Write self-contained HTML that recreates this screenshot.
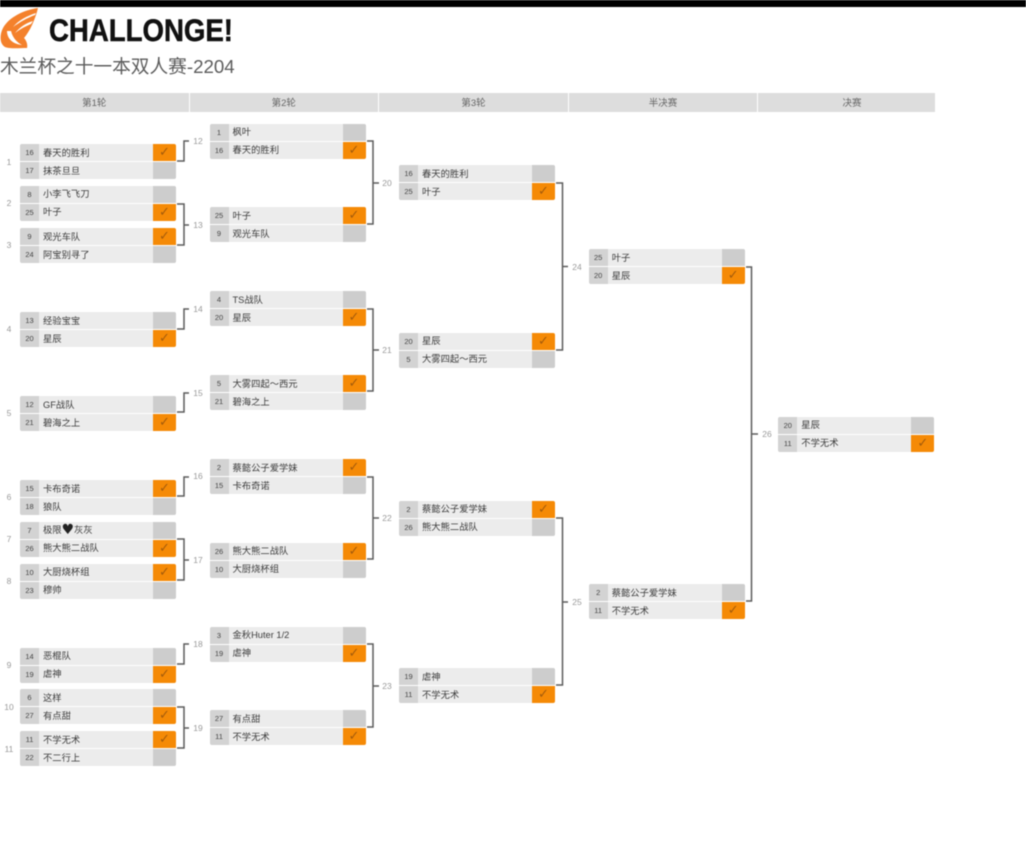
<!DOCTYPE html>
<html><head><meta charset="utf-8"><style>
html,body{margin:0;padding:0;background:#fff;width:1026px;height:846px;overflow:hidden}
body{position:relative;font-family:"Liberation Sans","Noto Sans CJK SC",sans-serif}
#p{position:absolute;left:0;top:0;width:1026px;height:846px;filter:blur(.45px)}
.bar{position:absolute;left:0;top:0;width:1026px;height:7px;background:#000}
.h{position:absolute;top:92.5px;height:19px;line-height:21px;background:#ddd;color:#666;font-size:9.5px;text-align:center}
.t{position:absolute;left:0;top:54px;font-size:18.700px;line-height:26px;color:#5c5c5c;white-space:nowrap}
.m{position:absolute;width:156px;height:35px;border-radius:2px;overflow:hidden;background:#fff}
.r{position:absolute;left:0;width:156px;height:17px;background:#ececec}
.a{top:0}.b{top:18px}
.s{position:absolute;left:0;top:0;width:19px;height:100%;background:#d3d3d3;color:#444;font-size:7.5px;line-height:17.500px;text-align:center}
.n{position:absolute;left:23px;top:.5px;font-size:9.3px;line-height:17px;color:#3c3c3c;white-space:nowrap}
.c{position:absolute;right:0;top:0;width:23px;height:100%;background:#cdcdcd}
.w .c{background:#f58a06;color:#a55c0c;font-size:13px;line-height:17px;text-align:center;font-family:"DejaVu Sans",sans-serif}
.l{position:absolute;font-size:8.5px;line-height:10px;color:#999;width:16px;text-align:center}
.ht{display:inline-block;width:12.400px;text-align:center;color:#222;font-size:14px;line-height:10px;font-family:"DejaVu Sans",sans-serif;vertical-align:-1px}
svg{position:absolute;left:0;top:0}
</style></head><body><div id="p">
<div class="bar"></div>

<svg width="1026" height="846" viewBox="0 0 1026 846">
<path d="M38 8C24 10 9 17 3 28C-1 36 0 44 5 47C10 49 20 48 27 48C28 44 26 40 24 38C30 31 35 20 38 8Z" fill="#f4812c"/>
<path d="M36 13C27 16 19 20 13 27C20 22 27 18 35 15ZM33 21C26 23 20 27 15 33C20 29 26 26 31 24ZM7 31C7 38 12 44 22 45C18 43 13 39 11 31Z" fill="#fff"/>
<text x="49" y="41" font-family="Liberation Sans" font-weight="700" font-size="31.500" fill="#111" stroke="#111" stroke-width=".5" textLength="184" lengthAdjust="spacingAndGlyphs">CHALLONGE!</text>
<g fill="none" stroke="#5c5c5c" stroke-width="1.5">
<path d="M177 161H184V141H189"/>
<path d="M177 204H184V245H177M184 225H189"/>
<path d="M177 329H184V309H189"/>
<path d="M177 412H184V393H189"/>
<path d="M177 496H184V477H189"/>
<path d="M177 539H184V580H177M184 560H189"/>
<path d="M177 664H184V644H189"/>
<path d="M177 707H184V748H177M184 728H189"/>
<path d="M367 141H373V224H367M373 183H379"/>
<path d="M367 309H373V391H367M373 350H379"/>
<path d="M367 477H373V559H367M373 518H379"/>
<path d="M367 644H373V727H367M373 686H379"/>
<path d="M556 183H562.5V350H556M562.5 266.500H568"/>
<path d="M556 518H562.5V685H556M562.5 602H568"/>
<path d="M746 267H751.500V601H746M751.500 434H758"/>
</g>
</svg>

<div class="t">木兰杯之十一本双人赛-2204</div>

<div class="h" style="left:0;width:188.500px">第1轮</div>
<div class="h" style="left:189.500px;width:188.500px">第2轮</div>
<div class="h" style="left:379px;width:189px">第3轮</div>
<div class="h" style="left:569px;width:188px">半决赛</div>
<div class="h" style="left:758px;width:177px;padding:0;text-indent:11px">决赛</div>

<div class="l" style="left:1px;top:157px">1</div>
<div class="l" style="left:1px;top:198px">2</div>
<div class="l" style="left:1px;top:240px">3</div>
<div class="l" style="left:1px;top:324px">4</div>
<div class="l" style="left:1px;top:408px">5</div>
<div class="l" style="left:1px;top:492px">6</div>
<div class="l" style="left:1px;top:534px">7</div>
<div class="l" style="left:1px;top:576px">8</div>
<div class="l" style="left:1px;top:660px">9</div>
<div class="l" style="left:1px;top:702px">10</div>
<div class="l" style="left:1px;top:744px">11</div>

<div class="l" style="left:190px;top:136px">12</div>
<div class="l" style="left:190px;top:220px">13</div>
<div class="l" style="left:190px;top:304px">14</div>
<div class="l" style="left:190px;top:388px">15</div>
<div class="l" style="left:190px;top:471px">16</div>
<div class="l" style="left:190px;top:555px">17</div>
<div class="l" style="left:190px;top:639px">18</div>
<div class="l" style="left:190px;top:723px">19</div>
<div class="l" style="left:379px;top:178px">20</div>
<div class="l" style="left:379px;top:345px">21</div>
<div class="l" style="left:379px;top:513px">22</div>
<div class="l" style="left:379px;top:681px">23</div>
<div class="l" style="left:569px;top:262px">24</div>
<div class="l" style="left:569px;top:597px">25</div>
<div class="l" style="left:759px;top:429px">26</div>

<!-- Round 1 -->
<div class="m" style="left:20px;top:144.300px"><div class="r a w"><div class="s">16</div><div class="n">春天的胜利</div><div class="c">✓</div></div><div class="r b"><div class="s">17</div><div class="n">抹茶旦旦</div><div class="c"></div></div></div>
<div class="m" style="left:20px;top:185.700px"><div class="r a"><div class="s">8</div><div class="n">小李飞飞刀</div><div class="c"></div></div><div class="r b w"><div class="s">25</div><div class="n">叶子</div><div class="c">✓</div></div></div>
<div class="m" style="left:20px;top:228px"><div class="r a w"><div class="s">9</div><div class="n">观光车队</div><div class="c">✓</div></div><div class="r b"><div class="s">24</div><div class="n">阿宝别寻了</div><div class="c"></div></div></div>
<div class="m" style="left:20px;top:312px"><div class="r a"><div class="s">13</div><div class="n">经验宝宝</div><div class="c"></div></div><div class="r b w"><div class="s">20</div><div class="n">星辰</div><div class="c">✓</div></div></div>
<div class="m" style="left:20px;top:396px"><div class="r a"><div class="s">12</div><div class="n">GF战队</div><div class="c"></div></div><div class="r b w"><div class="s">21</div><div class="n">碧海之上</div><div class="c">✓</div></div></div>
<div class="m" style="left:20px;top:480px"><div class="r a w"><div class="s">15</div><div class="n">卡布奇诺</div><div class="c">✓</div></div><div class="r b"><div class="s">18</div><div class="n">狼队</div><div class="c"></div></div></div>
<div class="m" style="left:20px;top:521.700px"><div class="r a"><div class="s">7</div><div class="n">极限<span class="ht">♥</span>灰灰</div><div class="c"></div></div><div class="r b w"><div class="s">26</div><div class="n">熊大熊二战队</div><div class="c">✓</div></div></div>
<div class="m" style="left:20px;top:563.700px"><div class="r a w"><div class="s">10</div><div class="n">大厨烧杯组</div><div class="c">✓</div></div><div class="r b"><div class="s">23</div><div class="n">穆帅</div><div class="c"></div></div></div>
<div class="m" style="left:20px;top:647.700px"><div class="r a"><div class="s">14</div><div class="n">恶棍队</div><div class="c"></div></div><div class="r b w"><div class="s">19</div><div class="n">虐神</div><div class="c">✓</div></div></div>
<div class="m" style="left:20px;top:689.300px"><div class="r a"><div class="s">6</div><div class="n">这样</div><div class="c"></div></div><div class="r b w"><div class="s">27</div><div class="n">有点甜</div><div class="c">✓</div></div></div>
<div class="m" style="left:20px;top:731px"><div class="r a w"><div class="s">11</div><div class="n">不学无术</div><div class="c">✓</div></div><div class="r b"><div class="s">22</div><div class="n">不二行上</div><div class="c"></div></div></div>

<!-- Round 2 -->
<div class="m" style="left:209.500px;top:123.700px"><div class="r a"><div class="s">1</div><div class="n">枫叶</div><div class="c"></div></div><div class="r b w"><div class="s">16</div><div class="n">春天的胜利</div><div class="c">✓</div></div></div>
<div class="m" style="left:209.500px;top:207.300px"><div class="r a w"><div class="s">25</div><div class="n">叶子</div><div class="c">✓</div></div><div class="r b"><div class="s">9</div><div class="n">观光车队</div><div class="c"></div></div></div>
<div class="m" style="left:209.500px;top:291px"><div class="r a"><div class="s">4</div><div class="n">TS战队</div><div class="c"></div></div><div class="r b w"><div class="s">20</div><div class="n">星辰</div><div class="c">✓</div></div></div>
<div class="m" style="left:209.500px;top:375px"><div class="r a w"><div class="s">5</div><div class="n">大雾四起～西元</div><div class="c">✓</div></div><div class="r b"><div class="s">21</div><div class="n">碧海之上</div><div class="c"></div></div></div>
<div class="m" style="left:209.500px;top:459px"><div class="r a w"><div class="s">2</div><div class="n">蔡懿公子爱学妹</div><div class="c">✓</div></div><div class="r b"><div class="s">15</div><div class="n">卡布奇诺</div><div class="c"></div></div></div>
<div class="m" style="left:209.500px;top:542.500px"><div class="r a w"><div class="s">26</div><div class="n">熊大熊二战队</div><div class="c">✓</div></div><div class="r b"><div class="s">10</div><div class="n">大厨烧杯组</div><div class="c"></div></div></div>
<div class="m" style="left:209.500px;top:626.700px"><div class="r a"><div class="s">3</div><div class="n">金秋Huter 1/2</div><div class="c"></div></div><div class="r b w"><div class="s">19</div><div class="n">虐神</div><div class="c">✓</div></div></div>
<div class="m" style="left:209.500px;top:710px"><div class="r a"><div class="s">27</div><div class="n">有点甜</div><div class="c"></div></div><div class="r b w"><div class="s">11</div><div class="n">不学无术</div><div class="c">✓</div></div></div>

<!-- Round 3 -->
<div class="m" style="left:399px;top:165.300px"><div class="r a"><div class="s">16</div><div class="n">春天的胜利</div><div class="c"></div></div><div class="r b w"><div class="s">25</div><div class="n">叶子</div><div class="c">✓</div></div></div>
<div class="m" style="left:399px;top:332.700px"><div class="r a w"><div class="s">20</div><div class="n">星辰</div><div class="c">✓</div></div><div class="r b"><div class="s">5</div><div class="n">大雾四起～西元</div><div class="c"></div></div></div>
<div class="m" style="left:399px;top:500.700px"><div class="r a w"><div class="s">2</div><div class="n">蔡懿公子爱学妹</div><div class="c">✓</div></div><div class="r b"><div class="s">26</div><div class="n">熊大熊二战队</div><div class="c"></div></div></div>
<div class="m" style="left:399px;top:668.300px"><div class="r a"><div class="s">19</div><div class="n">虐神</div><div class="c"></div></div><div class="r b w"><div class="s">11</div><div class="n">不学无术</div><div class="c">✓</div></div></div>

<!-- Semifinal -->
<div class="m" style="left:588.700px;top:249px"><div class="r a"><div class="s">25</div><div class="n">叶子</div><div class="c"></div></div><div class="r b w"><div class="s">20</div><div class="n">星辰</div><div class="c">✓</div></div></div>
<div class="m" style="left:588.700px;top:584.300px"><div class="r a"><div class="s">2</div><div class="n">蔡懿公子爱学妹</div><div class="c"></div></div><div class="r b w"><div class="s">11</div><div class="n">不学无术</div><div class="c">✓</div></div></div>

<!-- Final -->
<div class="m" style="left:778.300px;top:416.700px"><div class="r a"><div class="s">20</div><div class="n">星辰</div><div class="c"></div></div><div class="r b w"><div class="s">11</div><div class="n">不学无术</div><div class="c">✓</div></div></div>

</div></body></html>
